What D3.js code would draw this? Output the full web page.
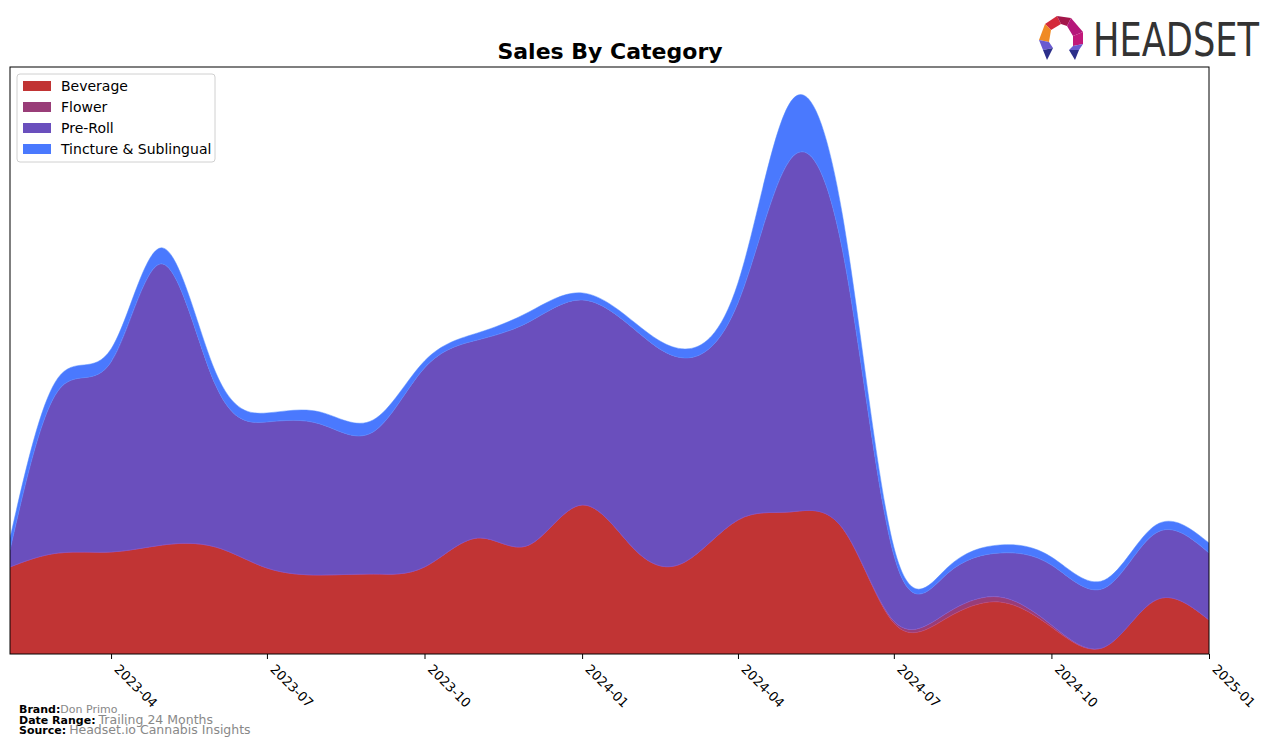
<!DOCTYPE html>
<html lang="en">
<head>
<meta charset="UTF-8" />
<script src="https://d3js.org/d3.v7.min.js"></script>
<title>Sales By Category</title>
<style>
  body { margin: 0; background: #fff; }
  text { font-family: "DejaVu Sans", sans-serif; }
</style>
</head>
<body>
<script>

// monthly points, 2023-02 .. 2025-01
var months = ["2023-02","2023-03","2023-04","2023-05","2023-06","2023-07","2023-08","2023-09",
  "2023-10","2023-11","2023-12","2024-01","2024-02","2024-03","2024-04","2024-05",
  "2024-06","2024-07","2024-08","2024-09","2024-10","2024-11","2024-12","2025-01"];

var categories = ["Beverage", "Flower", "Pre-Roll", "Tincture & Sublingual"];
var colors = ["#c13434", "#993d78", "#6a4fbd", "#4a79fe"];

var beverage = [87,101,102,109,107,86,79,80,87,116,109,149,104,92,134,142,126,31,36,52,27,7,54,34];
var flower   = [0,0,0,0,0,0,0,0,0,0,0,0,0,0,0,0,0,2,5,5,2,0,0,0];
var preRoll  = [17,162,190,281,162,146,151,142,199,198,223,205,220,204,217,351,278,66,39,44,60,59,67,67];
var tincture = [12,13,13,16,13,9,12,12,7,7,10,7,7,9,20,57,35,8,6,8,8,8,8,10];

var tickLabels = ["2023-04","2023-07","2023-10","2024-01","2024-04","2024-07","2024-10","2025-01"];

var width = 1276, height = 747;
var plotLeft = 10, plotRight = 1209, plotTop = 67, plotBottom = 654;

var parse = d3.timeParse("%Y-%m");
var rows = months.map(function(m, i) {
  return { date: parse(m), "Beverage": beverage[i], "Flower": flower[i],
           "Pre-Roll": preRoll[i], "Tincture & Sublingual": tincture[i] };
});

var svg = d3.select("body").append("svg").attr("width", width).attr("height", height);

var x = d3.scaleTime().domain([parse(months[0]), parse(months[months.length - 1])]).range([plotLeft, plotRight]);
var totals = rows.map(function(r) { return d3.sum(categories, function(c) { return r[c]; }); });
// headroom above the peak (smoothed curve overshoots the monthly point a little)
var y = d3.scaleLinear().domain([0, d3.max(totals) * 1.067]).range([plotBottom, plotTop]);

var layers = d3.stack().keys(categories)(rows);

svg.append("clipPath").attr("id", "plot").append("rect")
  .attr("x", plotLeft).attr("y", plotTop).attr("width", plotRight - plotLeft).attr("height", plotBottom - plotTop);

var area = d3.area()
  .curve(d3.curveNatural)
  .x(function(d) { return x(d.data.date); })
  .y0(function(d) { return y(d[0]); })
  .y1(function(d) { return y(d[1]); });

svg.append("g").attr("clip-path", "url(#plot)")
  .selectAll("path").data(layers).enter().append("path")
  .attr("d", area)
  .attr("fill", function(d, i) { return colors[i]; })
  .attr("stroke", function(d, i) { return d3.color(colors[i]).brighter(0.4); })
  .attr("stroke-width", 0.5);

// frame
svg.append("rect").attr("x", plotLeft).attr("y", plotTop).attr("width", plotRight - plotLeft).attr("height", plotBottom - plotTop)
  .attr("fill", "none").attr("stroke", "#000").attr("stroke-width", 1);

// x axis
var xAxis = svg.append("g").attr("transform", "translate(0," + plotBottom + ")")
  .call(d3.axisBottom(x).tickValues(tickLabels.map(parse)).tickFormat(d3.timeFormat("%Y-%m"))
    .tickSizeOuter(0).tickSize(5));
xAxis.select(".domain").remove();
xAxis.selectAll("text")
  .attr("font-size", 13).attr("fill", "#000")
  .attr("text-anchor", "start")
  .attr("x", 0).attr("y", 0).attr("dy", 0)
  .attr("transform", "translate(2,16) rotate(45)");
xAxis.selectAll("line").attr("stroke", "#000");

// title
svg.append("text").attr("x", 610).attr("y", 59).attr("text-anchor", "middle")
  .attr("font-size", 22).attr("font-weight", "bold").text("Sales By Category");

// legend
var lg = svg.append("g").attr("transform", "translate(17,74)");
lg.append("rect").attr("width", 198).attr("height", 88).attr("rx", 3)
  .attr("fill", "#fff").attr("stroke", "#d0d0d0");
categories.forEach(function(c, i) {
  lg.append("rect").attr("x", 6).attr("y", 7 + i * 21).attr("width", 28).attr("height", 10).attr("fill", colors[i]);
  lg.append("text").attr("x", 44).attr("y", 17 + i * 21).attr("font-size", 14).text(c);
});

// footer
var foot = [["Brand:", "Don Primo", 11], ["Date Range:", "Trailing 24 Months", 12.5], ["Source:", "Headset.io Cannabis Insights", 12.5]];
foot.forEach(function(f, i) {
  var t = svg.append("text").attr("x", 19).attr("y", 713 + i * 10.5).attr("font-size", 11);
  t.append("tspan").attr("font-weight", "bold").text(f[0]);
  t.append("tspan").attr("fill", "#888").attr("font-size", f[2]).attr("dx", i === 0 ? 0 : 3).text(f[1]);
});

// logo
var logo = svg.append("g").attr("transform", "translate(1061,38)");
var segs = [
  { pts: [[-16,-14],[-4,-22],[0,-14],[-10,-8]], c: "#d42a3b" },
  { pts: [[-4,-22],[10,-20],[6,-12],[0,-14]], c: "#a3164a" },
  { pts: [[10,-20],[22,-6],[12,-2],[6,-12]], c: "#b5177a" },
  { pts: [[-16,-14],[-10,-8],[-12,4],[-22,2]], c: "#f08a24" },
  { pts: [[-22,2],[-12,4],[-8,10],[-18,12]], c: "#6a5ad0" },
  { pts: [[-18,12],[-8,10],[-14,22]], c: "#2c2f8a" },
  { pts: [[22,-6],[22,6],[12,8],[12,-2]], c: "#c2187a" },
  { pts: [[22,6],[12,8],[8,12],[18,12]], c: "#6a5ad0" },
  { pts: [[18,12],[8,12],[14,22]], c: "#2c2f8a" }
];
segs.forEach(function(s) {
  logo.append("polygon").attr("points", s.pts.map(function(p) { return p.join(","); }).join(" ")).attr("fill", s.c);
});
svg.append("text").attr("x", 1093).attr("y", 56).attr("font-size", 46)
  .attr("font-family", "'Liberation Sans Narrow', 'DejaVu Sans Condensed', sans-serif")
  .attr("textLength", 166).attr("lengthAdjust", "spacingAndGlyphs")
  .attr("fill", "#333").text("HEADSET");

</script>
</body>
</html>
